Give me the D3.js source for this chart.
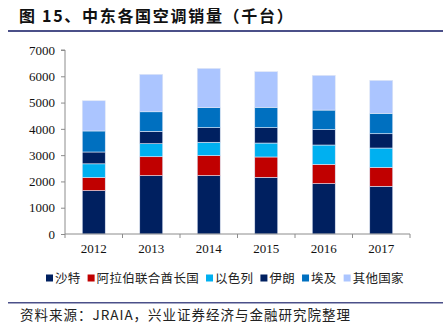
<!DOCTYPE html>
<html>
<head>
<meta charset="utf-8">
<script src="https://d3js.org/d3.v7.min.js"></script>
<style>
  body { margin: 0; background: #fff; }
  svg { display: block; }
</style>
</head>
<body>
<div id="chart"></div>
<script>
// data (thousand units)
const years = ["2012", "2013", "2014", "2015", "2016", "2017"];
const countries = ["沙特", "阿拉伯联合酋长国", "以色列", "伊朗", "埃及", "其他国家"];
const saudi  = [1650, 2220, 2220, 2155, 1915, 1815];
const uae    = [500, 720, 760, 775, 735, 720];
const israel = [520, 495, 510, 530, 735, 735];
const iran   = [450, 470, 555, 585, 585, 545];
const egypt  = [800, 745, 760, 775, 745, 775];
const others = [1150, 1425, 1495, 1355, 1320, 1255];
const yTicks = [0, 1000, 2000, 3000, 4000, 5000, 6000, 7000];
const colors = ["#002060", "#C00000", "#00B0F0", "#002060", "#0070C0", "#ABC5FF"];

const series = [saudi, uae, israel, iran, egypt, others];
const rows = years.map((y, i) => {
    const r = {year: y};
    countries.forEach((c, k) => r[c] = series[k][i]);
    return r;
});

const W = 443, H = 329;
const svg = d3.select("#chart").append("svg")
    .attr("width", W).attr("height", H);

// title + rules
svg.append("text")
    .attr("x", 19).attr("y", 22)
    .attr("font-family", "'Noto Sans CJK SC', sans-serif")
    .attr("font-size", 16).attr("font-weight", "bold")
    .attr("letter-spacing", 1.7)
    .attr("fill", "#111")
    .text("图 15、中东各国空调销量（千台）");
svg.append("rect").attr("x", 8).attr("y", 30).attr("width", W - 8).attr("height", 2).attr("fill", "#4B5089");
svg.append("rect").attr("x", 8).attr("y", 302).attr("width", W - 8).attr("height", 1.5).attr("fill", "#4B5089");

svg.append("text")
    .attr("x", 20).attr("y", 320)
    .attr("font-family", "'Noto Sans CJK SC', sans-serif")
    .attr("font-size", 13.5)
    .attr("letter-spacing", 1)
    .attr("fill", "#222")
    .text("资料来源：JRAIA，兴业证券经济与金融研究院整理");

// scales
const x = d3.scaleBand().domain(years).range([65, 410]).paddingInner(0.6).paddingOuter(0.3);
const y = d3.scaleLinear().domain([0, 7000]).range([234, 50]);

const stack = d3.stack().keys(countries)(rows);

svg.append("g").selectAll("g")
    .data(stack)
    .join("g")
    .attr("fill", (d, i) => colors[i])
    .selectAll("rect")
    .data(d => d)
    .join("rect")
    .attr("x", d => x(d.data.year))
    .attr("y", d => y(d[1]))
    .attr("width", x.bandwidth())
    .attr("height", d => y(d[0]) - y(d[1]))
    .attr("stroke", "#dfe6f5")
    .attr("stroke-width", 0.6);

// axes
const axisColor = "#8c8c8c";
const yAxis = svg.append("g")
    .attr("transform", "translate(65,0)")
    .call(d3.axisLeft(y).tickValues(yTicks).tickSize(4).tickPadding(6).tickFormat(d3.format("d")));
const xStep = x.step();
const xAxis = svg.append("g")
    .attr("transform", "translate(0,234)")
    .call(d3.axisBottom(x).tickSize(0).tickPadding(10));
// boundary ticks
xAxis.selectAll(".bt")
    .data(d3.range(years.length + 1))
    .join("line")
    .attr("class", "bt")
    .attr("x1", i => 65 + i * xStep).attr("x2", i => 65 + i * xStep)
    .attr("y1", 0).attr("y2", 4)
    .attr("stroke", axisColor);

[yAxis, xAxis].forEach(g => {
    g.select(".domain").attr("stroke", axisColor);
    g.selectAll(".tick line").attr("stroke", axisColor);
    g.selectAll("text")
        .attr("font-family", "'Liberation Serif', 'Times New Roman', serif")
        .attr("font-size", 13)
        .attr("fill", "#111");
});
xAxis.select(".domain").attr("d", "M65,0H410");
yAxis.select(".domain").attr("d", "M-4,50H0V234");

// legend
const legend = svg.append("g").attr("transform", "translate(46,278)");
let lx = 0;
countries.forEach((c, i) => {
    const g = legend.append("g").attr("transform", `translate(${lx},0)`);
    g.append("rect").attr("x", 0).attr("y", -3.5).attr("width", 7).attr("height", 7).attr("fill", colors[i]);
    const t = g.append("text")
        .attr("x", 9).attr("y", 4.5)
        .attr("font-family", "'Noto Sans CJK SC', sans-serif")
        .attr("font-size", 12.5)
        .attr("letter-spacing", 0.3)
        .attr("fill", "#222")
        .text(c);
    lx += 9 + t.node().getComputedTextLength() + 7;
});
</script>
</body>
</html>
